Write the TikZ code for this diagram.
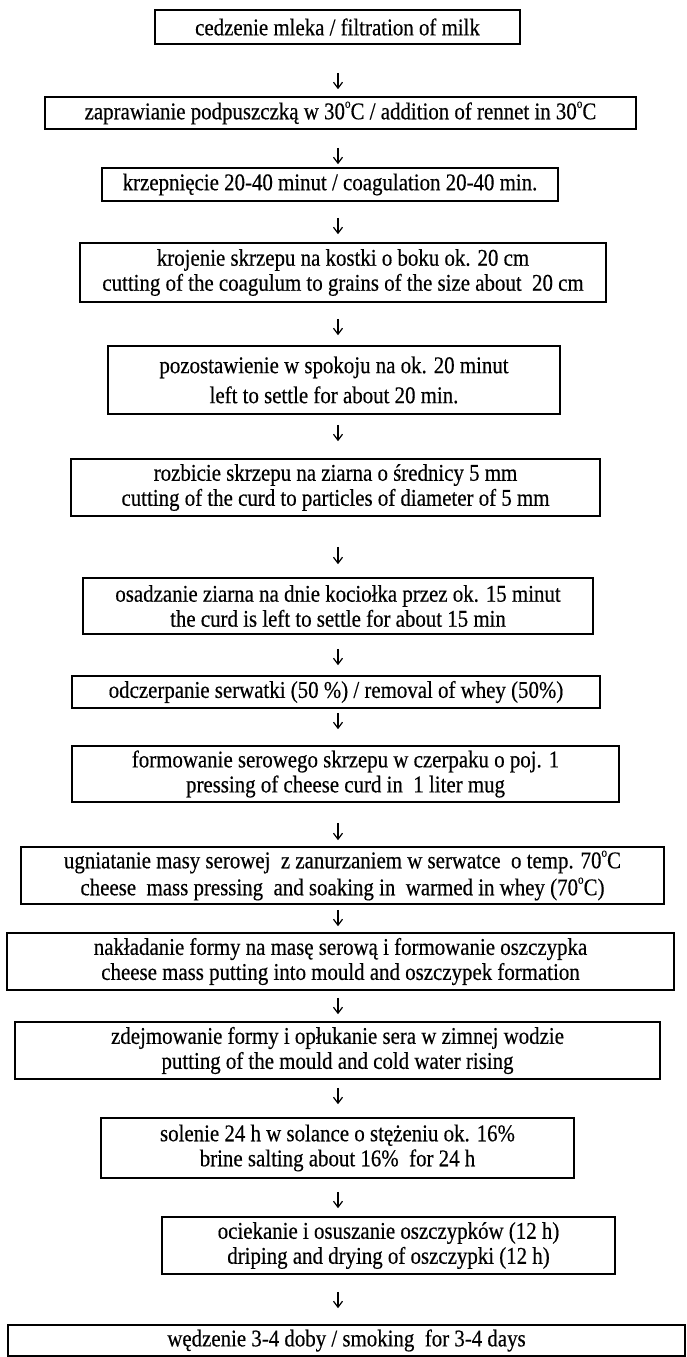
\documentclass[tikz,border=0pt]{standalone}
\usepackage{fontspec}
\setmainfont{Liberation Serif}[FakeStretch=0.87,FakeBold=0.4]
\usetikzlibrary{arrows.meta}
\newcommand{\dg}{\raisebox{1.05ex}{\fontsize{13}{13}\selectfont o}}
\begin{document}
\begin{tikzpicture}[x=1pt,y=-1pt,
  stepbox/.style={draw=black, line width=1.6pt, inner sep=0pt, align=center,
    font=\fontsize{24}{25}\selectfont},
  arr/.style={line width=1.2pt, -{Straight Barb[length=6pt,width=9pt,line width=1.2pt]}}]
\useasboundingbox (0,0) rectangle (687,1357);
\fill[white] (0,0) rectangle (687,1357);
\coordinate (ax) at (338,0);

\node[stepbox, minimum width=365pt, minimum height=34pt] (b1) at (337.5,27) {cedzenie mleka / filtration of milk};
\node[stepbox, minimum width=591pt, minimum height=32pt] (b2) at (340.5,113) {zaprawianie podpuszczką w 30\dg C / addition of rennet in 30\dg C};
\node[stepbox, minimum width=456pt, minimum height=33pt] (b3) at (330,184.5) {krzepnięcie 20-40 minut / coagulation 20-40 min.};
\node[stepbox, minimum width=526pt, minimum height=59pt] (b4) at (343,272.5) {krojenie skrzepu na kostki o boku ok. 20 cm\\cutting of the coagulum to grains of the size about\ \ 20 cm};
\node[stepbox, minimum width=452pt, minimum height=68pt, font=\fontsize{24}{30}\selectfont] (b5) at (334,380) {pozostawienie w spokoju na ok. 20 minut\\left to settle for about 20 min.};
\node[stepbox, minimum width=529pt, minimum height=57pt] (b6) at (335.5,487.5) {rozbicie skrzepu na ziarna o średnicy 5 mm\\cutting of the curd to particles of diameter of 5 mm};
\node[stepbox, minimum width=510pt, minimum height=56pt] (b7) at (338,606) {osadzanie ziarna na dnie kociołka przez ok. 15 minut\\the curd is left to settle for about 15 min};
\node[stepbox, minimum width=528pt, minimum height=32pt] (b8) at (336,692) {odczerpanie serwatki (50 \%) / removal of whey (50\%)};
\node[stepbox, minimum width=547pt, minimum height=56pt] (b9) at (345.5,774) {formowanie serowego skrzepu w czerpaku o poj. 1\\pressing of cheese curd in\ \ 1 liter mug};
\node[stepbox, minimum width=643pt, minimum height=57pt, font=\fontsize{24}{27}\selectfont] (b10) at (342.5,875.5) {ugniatanie masy serowej\ \ z zanurzaniem w serwatce\ \ o temp. 70\dg C\\cheese\ \ mass pressing\ \ and soaking in\ \ warmed in whey (70\dg C)};
\node[stepbox, minimum width=667pt, minimum height=57pt] (b11) at (340.5,961.5) {nakładanie formy na masę serową i formowanie oszczypka\\cheese mass putting into mould and oszczypek formation};
\node[stepbox, minimum width=645pt, minimum height=57pt] (b12) at (337.5,1050.5) {zdejmowanie formy i opłukanie sera w zimnej wodzie\\putting of the mould and cold water rising};
\node[stepbox, minimum width=473pt, minimum height=60pt] (b13) at (337.5,1148) {solenie 24 h w solance o stężeniu ok. 16\%\\brine salting about 16\%\ \ for 24 h};
\node[stepbox, minimum width=453pt, minimum height=57pt] (b14) at (388.5,1245.5) {ociekanie i osuszanie oszczypków (12 h)\\driping and drying of oszczypki (12 h)};
\node[stepbox, minimum width=677pt, minimum height=31pt] (b15) at (346.5,1340.5) {wędzenie 3-4 doby / smoking\ \ for 3-4 days};

\draw[arr, shorten <=28pt, shorten >=7pt] (b1.south -| ax) -- (b2.north -| ax);
\draw[arr, shorten <=18pt, shorten >=3pt] (b2.south -| ax) -- (b3.north -| ax);
\draw[arr, shorten <=16pt, shorten >=8pt] (b3.south -| ax) -- (b4.north -| ax);
\draw[arr, shorten <=16pt, shorten >=10pt] (b4.south -| ax) -- (b5.north -| ax);
\draw[arr, shorten <=10pt, shorten >=17pt] (b5.south -| ax) -- (b6.north -| ax);
\draw[arr, shorten <=30pt, shorten >=13pt] (b6.south -| ax) -- (b7.north -| ax);
\draw[arr, shorten <=14pt, shorten >=10pt] (b7.south -| ax) -- (b8.north -| ax);
\draw[arr, shorten <=4pt, shorten >=16pt] (b8.south -| ax) -- (b9.north -| ax);
\draw[arr, shorten <=20pt, shorten >=6pt] (b9.south -| ax) -- (b10.north -| ax);
\draw[arr, shorten <=5pt, shorten >=6pt] (b10.south -| ax) -- (b11.north -| ax);
\draw[arr, shorten <=7pt, shorten >=7pt] (b11.south -| ax) -- (b12.north -| ax);
\draw[arr, shorten <=8pt, shorten >=13pt] (b12.south -| ax) -- (b13.north -| ax);
\draw[arr, shorten <=13pt, shorten >=8pt] (b13.south -| ax) -- (b14.north -| ax);
\draw[arr, shorten <=17pt, shorten >=16pt] (b14.south -| ax) -- (b15.north -| ax);
\end{tikzpicture}
\end{document}
